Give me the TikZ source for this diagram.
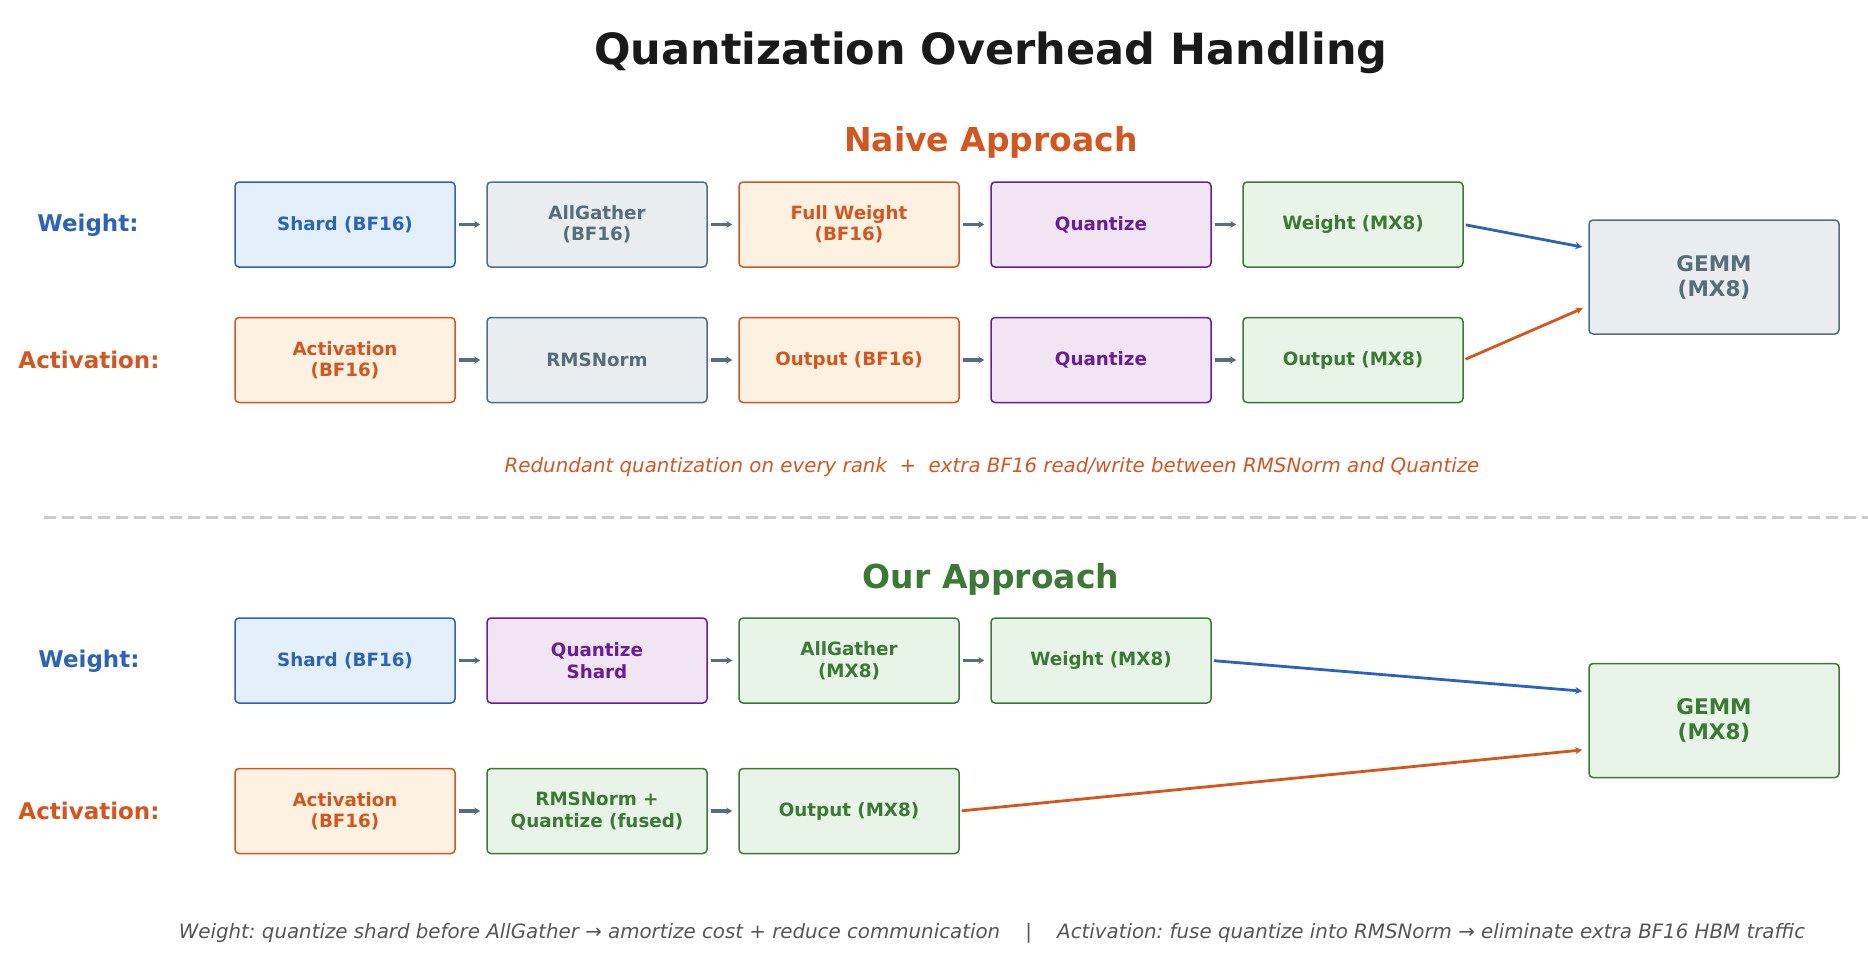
\documentclass[tikz,border=0pt]{standalone}
\usepackage{fontspec}
\setmainfont{DejaVu Sans}
\usetikzlibrary{arrows.meta,calc}
\frenchspacing
\definecolor{cblue}{HTML}{2A62BC}
\definecolor{fblue}{HTML}{E3F0FB}
\definecolor{corange}{HTML}{D4561E}
\definecolor{forange}{HTML}{FDF2E2}
\definecolor{cgray}{HTML}{546E7A}
\definecolor{fgray}{HTML}{E9EDF0}
\definecolor{cpurple}{HTML}{6A1B9A}
\definecolor{fpurple}{HTML}{F1E4F3}
\definecolor{cgreen}{HTML}{3B7A35}
\definecolor{fgreen}{HTML}{E8F4E7}
\definecolor{ctitle}{HTML}{1A1A1A}
\definecolor{cdash}{HTML}{CCCCCC}
\definecolor{cnote}{HTML}{555555}
\tikzset{
  box/.style={rectangle, rounded corners=4pt, minimum width=220pt, minimum height=85pt,
    line width=1.5pt, align=center, inner sep=2pt,
    font=\bfseries\fontsize{18.3}{21.5}\selectfont},
  bluebox/.style={box, draw=cblue, fill=fblue, text=cblue},
  orangebox/.style={box, draw=corange, fill=forange, text=corange},
  graybox/.style={box, draw=cgray, fill=fgray, text=cgray},
  purplebox/.style={box, draw=cpurple, fill=fpurple, text=cpurple},
  greenbox/.style={box, draw=cgreen, fill=fgreen, text=cgreen},
  gemmbox/.style={box, minimum width=250pt, minimum height=114pt,
    font=\bfseries\fontsize{21.5}{25}\selectfont},
  rowlabel/.style={font=\bfseries\fontsize{23}{27}\selectfont},
  flow/.style={draw=cgray, line width=3.8pt, -{Stealth[length=6pt,width=7pt]},
    shorten <=3pt, shorten >=6pt},
  longflow/.style={line width=2.8pt, -{Stealth[length=7pt,width=7pt]},
    shorten <=2pt, shorten >=6pt},
  heading/.style={font=\bfseries\fontsize{33}{38}\selectfont},
  note/.style={font=\itshape\fontsize{19.8}{24}\selectfont},
}
\begin{document}
\begin{tikzpicture}[x=1pt,y=-1pt]
\useasboundingbox (0,0) rectangle (1868,972);

\node[font=\bfseries\fontsize{43}{50}\selectfont, text=ctitle] (title) at (991,52.5) {Quantization Overhead Handling};

% Naive approach
\node[heading, text=corange] (naive) at (991,142.5) {Naive Approach};
\node[rowlabel, text=cblue] (nwl) at (88,225.5) {Weight:};
\node[rowlabel, text=corange] (nal) at (89,359.5) {Activation:};

\node[bluebox] (n1) at (345,224.5) {Shard (BF16)};
\node[graybox] (n2) at (597,224.5) {AllGather\\(BF16)};
\node[orangebox] (n3) at (849,224.5) {Full Weight\\(BF16)};
\node[purplebox] (n4) at (1101,224.5) {Quantize};
\node[greenbox] (n5) at (1353,224.5) {Weight (MX8)};

\node[orangebox] (m1) at (345,360) {Activation\\(BF16)};
\node[graybox] (m2) at (597,360) {RMSNorm};
\node[orangebox] (m3) at (849,360) {Output (BF16)};
\node[purplebox] (m4) at (1101,360) {Quantize};
\node[greenbox] (m5) at (1353,360) {Output (MX8)};

\node[gemmbox, draw=cgray, fill=fgray, text=cgray] (g1) at (1714,277) {GEMM\\(MX8)};

\draw[flow] (n1) -- (n2);
\draw[flow] (n2) -- (n3);
\draw[flow] (n3) -- (n4);
\draw[flow] (n4) -- (n5);
\draw[flow] (m1) -- (m2);
\draw[flow] (m2) -- (m3);
\draw[flow] (m3) -- (m4);
\draw[flow] (m4) -- (m5);

\coordinate (g1a) at ($(g1.north west)!0.25!(g1.south west)$);
\coordinate (g1b) at ($(g1.north west)!0.75!(g1.south west)$);
\draw[longflow, draw=cblue] (n5.east) -- (g1a);
\draw[longflow, draw=corange] (m5.east) -- (g1b);

\node[note, text=corange] (note1) at (992,467)
  {Redundant quantization on every rank\ \ +\ \ extra BF16 read/write between RMSNorm and Quantize};

% separator
\coordinate (sepL) at (44,517);
\coordinate (sepR) at (1868,517);
\draw[cdash, line width=3pt, dash pattern=on 12pt off 6pt] (sepL) -- (sepR);

% Our approach
\node[heading, text=cgreen] (ours) at (991,579.5) {Our Approach};
\node[rowlabel, text=cblue] (owl) at (89,661.5) {Weight:};
\node[rowlabel, text=corange] (oal) at (89,811) {Activation:};

\node[bluebox] (o1) at (345,660.5) {Shard (BF16)};
\node[purplebox] (o2) at (597,660.5) {Quantize\\Shard};
\node[greenbox] (o3) at (849,660.5) {AllGather\\(MX8)};
\node[greenbox] (o4) at (1101,660.5) {Weight (MX8)};

\node[orangebox] (p1) at (345,811) {Activation\\(BF16)};
\node[greenbox] (p2) at (597,811) {RMSNorm +\\Quantize (fused)};
\node[greenbox] (p3) at (849,811) {Output (MX8)};

\node[gemmbox, draw=cgreen, fill=fgreen, text=cgreen] (g2) at (1714,720.5) {GEMM\\(MX8)};

\draw[flow] (o1) -- (o2);
\draw[flow] (o2) -- (o3);
\draw[flow] (o3) -- (o4);
\draw[flow] (p1) -- (p2);
\draw[flow] (p2) -- (p3);

\coordinate (g2a) at ($(g2.north west)!0.25!(g2.south west)$);
\coordinate (g2b) at ($(g2.north west)!0.75!(g2.south west)$);
\draw[longflow, draw=cblue] (o4.east) -- (g2a);
\draw[longflow, draw=corange] (p3.east) -- (g2b);

\node[note, text=cnote] (note2) at (992,933.5)
  {Weight: quantize shard before AllGather → amortize cost + reduce communication\ \ \ \ |\ \ \ \ Activation: fuse quantize into RMSNorm → eliminate extra BF16 HBM traffic};
\end{tikzpicture}
\end{document}
